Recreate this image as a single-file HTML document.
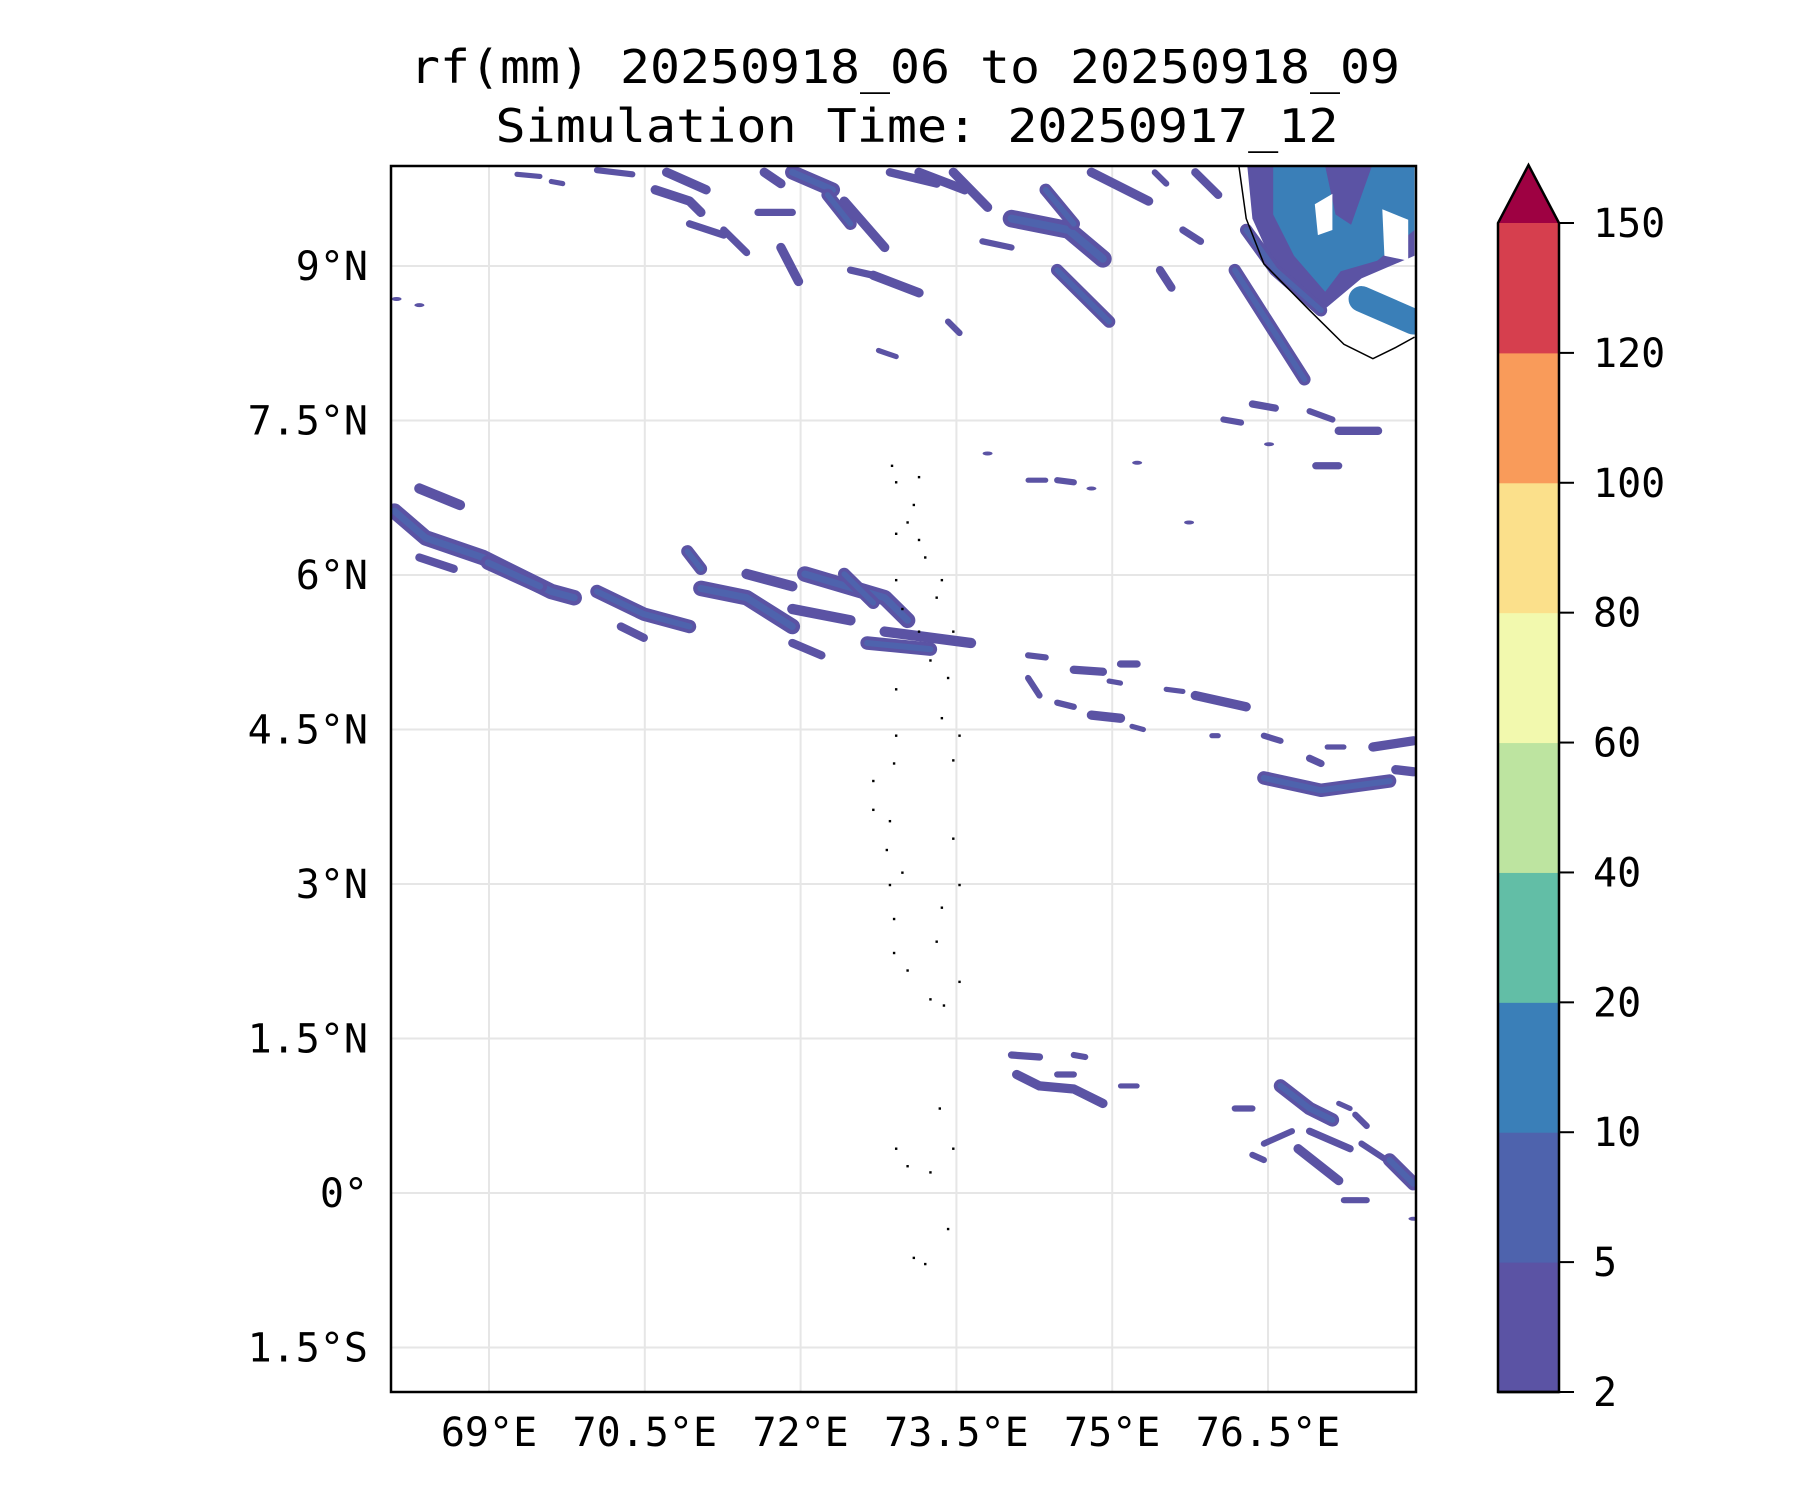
<!DOCTYPE html>
<html><head><meta charset="utf-8"><style>
html,body{margin:0;padding:0;background:#fff}
svg{display:block}
text{font-family:"DejaVu Sans Mono","Liberation Mono",monospace;fill:#000}
</style></head><body>
<svg id="chart" width="1800" height="1500" viewBox="0 0 1800 1500" xmlns="http://www.w3.org/2000/svg">
<rect width="1800" height="1500" fill="#fff"/>
<text x="905" y="83" font-size="46" text-anchor="middle" textLength="990" lengthAdjust="spacingAndGlyphs">rf(mm) 20250918_06 to 20250918_09</text>
<text x="917" y="142" font-size="46" text-anchor="middle" textLength="843" lengthAdjust="spacingAndGlyphs">Simulation Time: 20250917_12</text>
<defs><clipPath id="plotclip"><rect x="391" y="166" width="1025" height="1226"/></clipPath></defs>
<g id="grid"></g>
<g id="rain" clip-path="url(#plotclip)"></g>
<g id="land" clip-path="url(#plotclip)"></g>
<rect x="391" y="166" width="1025" height="1226" fill="none" stroke="#000" stroke-width="2.5"/>
<g id="axes"></g>
<g id="cbar"></g>
</svg>
<script>
const lonTicks=[69,70.5,72,73.5,75,76.5];
const lonLabels=["69°E","70.5°E","72°E","73.5°E","75°E","76.5°E"];
const latTicks=[9,7.5,6,4.5,3,1.5,0,-1.5];
const latLabels=["9°N","7.5°N","6°N","4.5°N","3°N","1.5°N","0°","1.5°S"];
const cbarLevels=[2,5,10,20,40,60,80,100,120,150];
const cbarColors=["#5b53a4","#4e63ad","#3a7fb8","#62bea6","#bde4a0","#f2f9ae","#fbe08b","#f99b5a","#d63f4e"];
const extendColor="#9e0142";
const bandPts=[
[[68.09,6.62],[68.39,6.36],[68.94,6.17],[69.60,5.84],[69.82,5.78]],
[[68.33,6.84],[68.72,6.68]],
[[68.33,6.17],[68.66,6.06]],
[[68.99,6.12],[69.49,5.89]],
[[70.04,5.84],[70.49,5.62],[70.93,5.50]],
[[70.27,5.50],[70.49,5.39]],
[[70.91,6.23],[71.04,6.06]],
[[71.04,5.87],[71.48,5.78],[71.92,5.50]],
[[71.48,6.01],[71.92,5.89]],
[[71.92,5.67],[72.48,5.56]],
[[71.92,5.34],[72.20,5.22]],
[[72.04,6.01],[72.81,5.78],[73.03,5.56]],
[[72.42,6.01],[72.70,5.73]],
[[72.64,5.34],[73.25,5.28]],
[[72.81,5.45],[73.64,5.34]],
[[69.27,9.89],[69.49,9.87]],
[[69.60,9.82],[69.71,9.80]],
[[70.04,9.93],[70.38,9.89]],
[[70.71,9.91],[71.09,9.74]],
[[70.60,9.74],[70.93,9.63],[71.04,9.52]],
[[70.93,9.41],[71.26,9.30]],
[[71.26,9.35],[71.48,9.13]],
[[71.65,9.91],[71.81,9.80]],
[[71.92,9.91],[72.31,9.74]],
[[71.59,9.52],[71.92,9.52]],
[[71.81,9.18],[71.98,8.85]],
[[72.26,9.69],[72.48,9.41]],
[[72.42,9.63],[72.81,9.18]],
[[72.48,8.96],[72.70,8.91]],
[[72.70,8.91],[73.14,8.74]],
[[72.86,9.91],[73.31,9.80]],
[[73.14,9.91],[73.58,9.74]],
[[73.47,9.91],[73.80,9.57]],
[[73.75,9.24],[74.03,9.18]],
[[74.03,9.46],[74.58,9.35],[74.91,9.07]],
[[74.36,9.74],[74.63,9.41]],
[[74.47,8.96],[74.97,8.46]],
[[74.80,9.91],[75.35,9.63]],
[[75.41,9.91],[75.52,9.80]],
[[75.46,8.96],[75.57,8.79]],
[[75.68,9.35],[75.85,9.24]],
[[75.80,9.91],[76.02,9.69]],
[[73.42,8.46],[73.53,8.35]],
[[72.75,8.18],[72.92,8.12]],
[[76.18,8.96],[76.85,7.90]],
[[76.29,9.35],[76.57,8.96],[77.01,8.57]],
[[76.07,7.51],[76.24,7.48]],
[[76.35,7.66],[76.57,7.62]],
[[76.90,7.59],[77.12,7.51]],
[[77.18,7.40],[77.56,7.40]],
[[76.96,7.06],[77.18,7.06]],
[[74.19,6.92],[74.36,6.92]],
[[74.47,6.92],[74.63,6.90]],
[[74.19,5.22],[74.36,5.20]],
[[74.63,5.08],[74.91,5.06]],
[[75.08,5.136],[75.24,5.136]],
[[74.19,5.00],[74.30,4.83]],
[[74.47,4.76],[74.63,4.72]],
[[74.80,4.64],[75.08,4.61]],
[[75.19,4.53],[75.30,4.50]],
[[74.97,4.97],[75.08,4.95]],
[[75.52,4.89],[75.68,4.87]],
[[75.80,4.83],[76.29,4.72]],
[[76.46,4.44],[76.62,4.39]],
[[76.90,4.22],[77.01,4.17]],
[[77.07,4.33],[77.23,4.33]],
[[77.51,4.33],[77.90,4.39]],
[[76.46,4.03],[77.01,3.91],[77.67,4.00]],
[[77.73,4.11],[77.90,4.09]],
[[75.96,4.44],[76.02,4.44]],
[[74.03,1.34],[74.30,1.32]],
[[74.08,1.15],[74.30,1.04],[74.63,1.01],[74.91,0.87]],
[[74.47,1.15],[74.63,1.15]],
[[74.63,1.34],[74.74,1.32]],
[[75.08,1.04],[75.24,1.04]],
[[76.18,0.82],[76.35,0.82]],
[[76.62,1.04],[76.90,0.82],[77.12,0.71]],
[[77.18,0.87],[77.29,0.82]],
[[76.46,0.48],[76.73,0.60]],
[[76.79,0.43],[77.18,0.12]],
[[76.90,0.60],[77.29,0.43]],
[[77.40,0.48],[77.73,0.26]],
[[77.67,0.32],[77.90,0.09]],
[[77.23,-0.07],[77.45,-0.07]],
[[76.35,0.37],[76.46,0.32]],
[[77.34,0.76],[77.45,0.65]],
[[77.40,8.68],[77.90,8.46]]
];
const bandWidth=[.15,.1,.08,.14,.13,.08,.12,.15,.1,.1,.08,.15,.12,.13,.1,
.05,.05,.06,.09,.09,.07,.07,.09,.14,.07,.09,.12,.09,.07,.09,.08,.09,.09,.06,.17,.12,.12,.09,.06,.08,.07,.08,.06,.05,
.12,.12,.06,.07,.06,.08,.07,.05,.06,
.06,.08,.07,.06,.06,.09,.05,.05,.05,.09,.06,.07,.05,.09,.13,.09,.05,
.07,.09,.06,.06,.05,.06,.13,.05,.06,.09,.07,.06,.13,.06,.06,.06,.25];
const bandLevel=[0,0,0,0,0,0,0,0,0,0,0,0,0,0,0, 0,0,0,0,0,0,0,0,0,0,0,0,0,0,0,0,0,0,0,0,0,0,0,0,0,0,0,0,0,
0,0,0,0,0,0,0,0,0, 0,0,0,0,0,0,0,0,0,0,0,0,0,0,0,0,0, 0,0,0,0,0,0,0,0,0,0,0,0,0,0,0,0,2];
const neOuter=[[76.30,9.97],[77.91,9.97],[77.91,9.10],[77.40,8.88],[77.01,8.55],[76.60,8.90],[76.35,9.46]];
const neInner=[[76.55,9.97],[77.05,9.97],[77.15,9.50],[77.30,9.40],[77.50,9.97],[77.91,9.97],[77.91,9.35],[77.55,9.05],[77.20,8.95],[77.05,8.75],[76.75,9.10],[76.55,9.50]];
const neHole=[[77.60,9.55],[77.85,9.45],[77.85,9.05],[77.62,9.10]];
const neHole2=[[76.95,9.60],[77.12,9.70],[77.12,9.35],[76.98,9.30]];
const rainDots=[[73.80,7.18],[75.24,7.09],[75.74,6.51],[76.51,7.27],[74.80,6.84],[68.11,8.68],[68.33,8.62],[77.90,-0.25]];
const coastline=[[76.22,9.97],[76.29,9.46],[76.46,9.02],[76.90,8.57],[77.23,8.24],[77.51,8.10],[77.73,8.21],[77.91,8.31]];
const islands=[[72.88,7.06],[72.92,6.90],[73.14,6.95],[73.09,6.68],[73.03,6.51],[72.92,6.40],[73.14,6.34],[73.20,6.17],[73.36,5.95],[73.31,5.78],[72.92,5.95],[72.98,5.67],[73.14,5.45],[73.47,5.45],[73.25,5.17],[72.92,4.89],[73.42,5.00],[73.36,4.61],[73.53,4.44],[73.47,4.20],[72.92,4.44],[72.90,4.17],[72.70,4.00],[72.70,3.72],[72.86,3.61],[72.83,3.33],[72.98,3.11],[72.86,2.99],[72.90,2.66],[73.47,3.44],[73.53,2.99],[73.36,2.77],[73.31,2.44],[72.90,2.33],[73.03,2.16],[73.25,1.88],[73.53,2.05],[73.38,1.82],[73.34,0.82],[72.92,0.43],[73.03,0.26],[73.25,0.20],[73.47,0.43],[73.42,-0.35],[73.09,-0.63],[73.20,-0.69]];

const NS='http://www.w3.org/2000/svg';
function X(lon){return 489+(lon-69)*103.87;}
function Y(lat){return 1193-lat*103.0;}
function el(tag,attrs,parent){const e=document.createElementNS(NS,tag);for(const k in attrs)e.setAttribute(k,attrs[k]);parent.appendChild(e);return e;}
const grid=document.getElementById('grid'),rain=document.getElementById('rain'),land=document.getElementById('land'),axes=document.getElementById('axes'),cbar=document.getElementById('cbar');

lonTicks.forEach((v,i)=>{
  const l=el('line',{x1:X(v),x2:X(v),y1:166,y2:1392,stroke:'#e6e6e6','stroke-width':2},grid);
  
  
  const t=el('text',{x:X(v),y:1446,'font-size':40,'text-anchor':'middle'},axes);
  t.textContent=lonLabels[i];
  
  
});
latTicks.forEach((v,i)=>{
  const l=el('line',{x1:391,x2:1416,y1:Y(v),y2:Y(v),stroke:'#e6e6e6','stroke-width':2},grid);
  
  
  const t=el('text',{x:368,y:Y(v)+14,'font-size':40,'text-anchor':'end'},axes);
  t.textContent=latLabels[i];
  
  
});

function poly(pts){return pts.map(p=>X(p[0]).toFixed(1)+','+Y(p[1]).toFixed(1)).join(' ');}
let p=el('polygon',{points:poly(neOuter),fill:cbarColors[0]},rain);


p=el('polygon',{points:poly(neInner),fill:cbarColors[2]},rain);


p=el('polygon',{points:poly(neHole),fill:'#fff'},rain);


p=el('polygon',{points:poly(neHole2),fill:'#fff'},rain);



bandPts.forEach((pts,i)=>{
  const w=bandWidth[i]*103.5;
  const c=cbarColors[bandLevel[i]];
  const b=el('polyline',{points:poly(pts),fill:'none',stroke:c,'stroke-width':w,'stroke-linecap':'round','stroke-linejoin':'round'},rain);
  
  
  if(bandLevel[i]===0 && bandWidth[i]>=0.12){
    const b2=el('polyline',{points:poly(pts),fill:'none',stroke:cbarColors[1],'stroke-width':w*0.45,'stroke-linecap':'round','stroke-linejoin':'round'},rain);
    
    
  }
});
rainDots.forEach(d=>{
  const c=el('ellipse',{cx:X(d[0]),cy:Y(d[1]),rx:5,ry:2,fill:cbarColors[0]},rain);
  
  
});
const cl=el('polyline',{points:poly(coastline),fill:'none',stroke:'#000','stroke-width':1.5},land);


islands.forEach(d=>{
  const c=el('rect',{x:X(d[0])-1.2,y:Y(d[1])-1.2,width:2.4,height:2.4,fill:'#000'},land);
  
  
});

const cbTop=223,cbBot=1392,cbL=1498,cbR=1559;
const step=(cbBot-cbTop)/(cbarLevels.length-1);
function CY(i){return cbBot-i*step;}
cbarColors.forEach((c,i)=>{
  const r=el('rect',{x:cbL,y:CY(i+1),width:cbR-cbL,height:step+0.5,fill:c},cbar);
  
  
});
const tri=el('polygon',{points:`${cbL},${cbTop} ${cbR},${cbTop} ${(cbL+cbR)/2},165`,fill:extendColor},cbar);


const outl=el('polygon',{points:`${cbL},${cbBot} ${cbL},${cbTop} ${(cbL+cbR)/2},165 ${cbR},${cbTop} ${cbR},${cbBot}`,fill:'none',stroke:'#000','stroke-width':2.5},cbar);


el('line',{x1:cbL,x2:cbR,y1:cbBot,y2:cbBot,stroke:'#000','stroke-width':2.5},cbar);
cbarLevels.forEach((v,i)=>{
  const tk=el('line',{x1:cbR,x2:cbR+15,y1:CY(i),y2:CY(i),stroke:'#000','stroke-width':2},cbar);
  
  
  const t=el('text',{x:1593,y:CY(i)+14,'font-size':40},cbar);
  t.textContent=String(v);
  
  
});
</script>
</body></html>
